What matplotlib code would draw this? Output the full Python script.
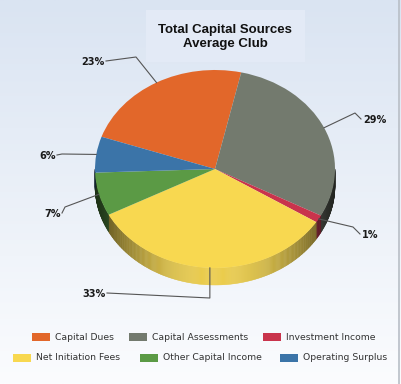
import numpy as np
import matplotlib.pyplot as plt
from matplotlib.collections import PolyCollection
from matplotlib.patches import Rectangle
import matplotlib.colors as mcolors

labels = ['Capital Dues', 'Capital Assessments', 'Investment Income',
          'Net Initiation Fees', 'Other Capital Income', 'Operating Surplus']
values = [23, 29, 1.2, 33, 7, 5.8]
pct_labels = ['23%', '29%', '1%', '33%', '7%', '6%']
colors = ['#E2672A', '#737A6E', '#C9344C', '#F8D850', '#5B9A45', '#3B74A8']

W, H = 402, 384
CX, CY, RX, RY = 215, 169, 120, 99   # pie centre / radii in px
DEPTH = 17 / RY
START = 161

def px(x, y):
    # pixel (from top-left) -> data coords
    return (x - CX) / RX, (CY - y) / RY

fig = plt.figure(figsize=(W / 100, H / 100), dpi=100)

# background gradient
bg = fig.add_axes([0, 0, 1, 1])
grad = np.linspace(0, 1, 256)[:, None]
top = np.array([218, 228, 242]) / 255
bot = np.array([251, 252, 254]) / 255
img = top[None, None, :] * (1 - grad[..., None]) + bot[None, None, :] * grad[..., None]
bg.imshow(img, aspect='auto', extent=[0, 1, 0, 1])
bg.set_xlim(0, 1)
bg.set_ylim(0, 1)
bg.axis('off')
bg.add_patch(Rectangle((146 / W, 1 - 62 / H), 159 / W, 52 / H, color='#E3EAF6', lw=0))
bg.plot([399.5 / W, 399.5 / W], [0, 1], color='#B8BEC6', lw=1.2)

ax = fig.add_axes([0, 0, 1, 1])
ax.axis('off')

# side wall (front half only)
vals = np.array(values)
ang = vals / vals.sum() * 360
ends = START - np.cumsum(ang)
starts = ends + ang
polys, fcs = [], []
for s, e, c in zip(starts, ends, colors):
    base = np.array(mcolors.to_rgb(c))
    lo = e % 360
    hi = lo + (s - e)
    for off in (0, 360, -360):
        a0, a1 = max(lo + off, 180), min(hi + off, 360)
        if a1 <= a0:
            continue
        t = np.radians(np.linspace(a0, a1, max(2, int((a1 - a0) * 2))))
        for i in range(len(t) - 1):
            x0, x1 = np.cos(t[i]), np.cos(t[i + 1])
            y0, y1 = np.sin(t[i]), np.sin(t[i + 1])
            polys.append([(x0, y0), (x1, y1), (x1, y1 - DEPTH), (x0, y0 - DEPTH)])
            f = 0.3 + 0.65 * (-np.sin((t[i] + t[i + 1]) / 2)) ** 2
            fcs.append(np.clip(base * f, 0, 1))
ax.add_collection(PolyCollection(polys, facecolors=fcs, edgecolors=fcs, linewidths=0.3))

ax.pie(values, colors=colors, startangle=START, counterclock=False,
       radius=1, wedgeprops=dict(linewidth=0))
ax.set_aspect('auto')
ax.set_xlim(-CX / RX, (W - CX) / RX)
ax.set_ylim(-(H - CY) / RY, CY / RY)

# leader lines: elbow px, label end px, text anchor
mids = np.radians(ends + ang / 2)
anchor_x = CX + RX * np.cos(mids[3])
leaders = [
    ((136, 57), (106, 61), 'right'),
    ((355, 113), (361, 119), 'left'),
    ((353, 227), (360, 234), 'left'),
    ((anchor_x, 298), (107, 293), 'right'),
    ((65, 207), (62, 213), 'right'),
    ((62, 154), (57, 155), 'right'),
]
for m, (elb, end, ha), txt in zip(mids, leaders, pct_labels):
    pts = [(np.cos(m), np.sin(m)), px(*elb), px(*end)]
    xs, ys = zip(*pts)
    ax.plot(xs, ys, color='#555555', lw=0.8)
    tx = end[0] + (2 if ha == 'left' else -1)
    ax.text(*px(tx, end[1] + 1), txt, ha=ha, va='center', fontsize=7,
            fontweight='bold', color='#1a1a1a', family='DejaVu Sans')

# title
fig.text(225 / W, 1 - 30 / H, 'Total Capital Sources', ha='center', va='center',
         fontsize=9.5, fontweight='bold', family='Liberation Sans', color='#111111')
fig.text(225 / W, 1 - 44 / H, 'Average Club', ha='center', va='center',
         fontsize=9.5, fontweight='bold', family='Liberation Sans', color='#111111')

# legend
leg_pos = [(32, 337), (129, 337), (263, 337), (13, 358), (140, 358), (280, 358)]
for (lx, ly), lab, c in zip(leg_pos, labels, colors):
    bg.add_patch(Rectangle((lx / W, 1 - (ly + 4) / H), 18 / W, 8 / H, color=c, lw=0))
    fig.text((lx + 23) / W, 1 - ly / H, lab, ha='left', va='center',
             fontsize=6.7, color='#333333', family='DejaVu Sans')

fig.savefig('out.png', dpi=100)
